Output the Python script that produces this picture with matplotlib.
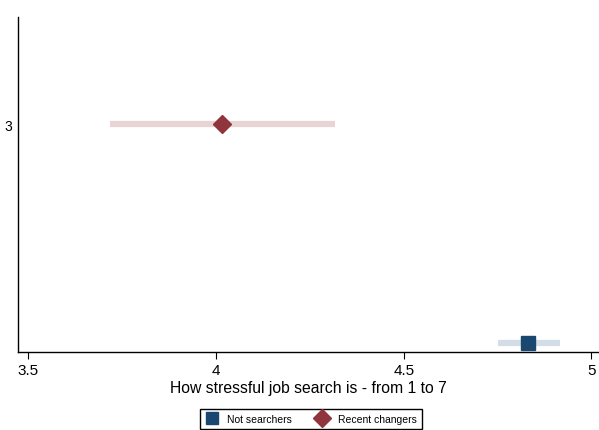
import matplotlib
matplotlib.use("Agg")
import matplotlib.pyplot as plt
from matplotlib.lines import Line2D

plt.rcParams['font.family'] = ['Liberation Sans', 'DejaVu Sans']

# estimates
groups = ["Not searchers", "Recent changers"]
ypos = [1, 3]
means = [4.832, 4.016]
ci_low = [4.752, 3.717]
ci_high = [4.915, 4.317]
colors = ["#1a476f", "#90353b"]
ci_colors = ["#d3dde8", "#e8d4d5"]
markers = ["s", "D"]
msizes = [9.5, 9.5]

fig = plt.figure(figsize=(5.99, 4.31), dpi=100)
ax = fig.add_axes([18 / 599, 78 / 431, 1 - 18 / 599, 335 / 431])

for y, m, lo, hi, c, cc, mk, ms in zip(ypos, means, ci_low, ci_high, colors, ci_colors, markers, msizes):
    ax.plot([lo, hi], [y, y], color=cc, lw=4.5, solid_capstyle="butt", zorder=1)
    ax.plot([m], [y], marker=mk, color=c, ms=ms, ls="none", zorder=2)

ax.set_xlim(3.473, 5.02)
ax.set_ylim(0.917, 3.98)
ax.set_xticks([3.5, 4, 4.5, 5])
ax.set_xticklabels(["3.5", "4", "4.5", "5"])
ax.set_yticks([3])
ax.set_yticklabels(["3"])
ax.tick_params(axis="x", labelsize=11, length=5, width=0.8, color="black", pad=3)
ax.tick_params(axis="y", labelsize=10, length=0, pad=4)
ax.spines["top"].set_visible(False)
ax.spines["right"].set_visible(False)
for s in ["left", "bottom"]:
    ax.spines[s].set_linewidth(1.0)
    ax.spines[s].set_color("black")

ax.set_xlabel("How stressful job search is - from 1 to 7", fontsize=11.3, labelpad=2)

handles = [Line2D([], [], marker="s", color=colors[0], ls="none", ms=8.6),
           Line2D([], [], marker="D", color=colors[1], ls="none", ms=9.5)]
fig.legend(handles, groups, loc="center", bbox_to_anchor=(311 / 599, 11 / 431),
           ncol=2, fontsize=7.5, frameon=True, fancybox=False, edgecolor="black",
           framealpha=1, handletextpad=0.9, columnspacing=2.3, borderpad=0.5,
           handlelength=1.2, borderaxespad=0)

fig.savefig("out.png", dpi=100)
